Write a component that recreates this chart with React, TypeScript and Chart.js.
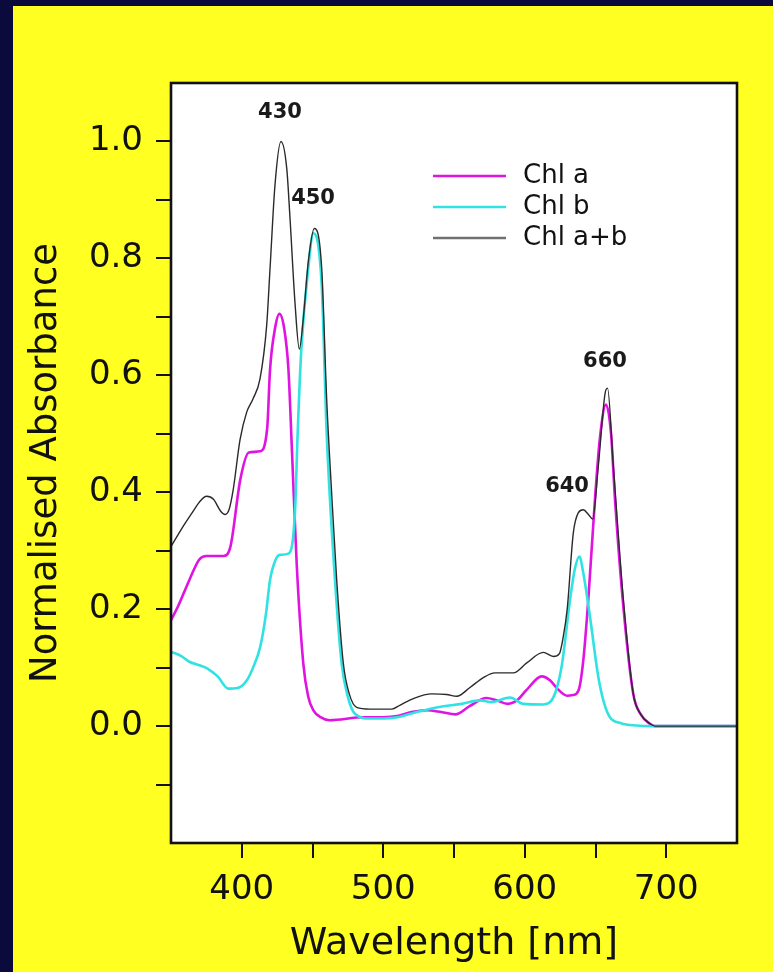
import React, { useEffect, useRef } from "react";
import { Chart, registerables } from "chart.js";

Chart.register(...registerables);

// ---- data ----
const chlAWavelengths = [350, 355, 363, 370, 375, 387, 392, 399, 405, 413, 418, 420, 423.5, 426.6, 430, 433, 435.5, 438.8, 443.5, 447, 450.6, 456, 462, 486, 500, 510, 520, 531, 541, 551, 561, 573, 580, 588, 595, 601, 612, 618, 623, 630, 634, 638, 641.4, 644.9, 649.6, 653, 657.4, 661, 663.8, 669.7, 676.7, 682, 688.5, 692, 750];
const chlAValues = [0.181, 0.205, 0.25, 0.285, 0.291, 0.291, 0.307, 0.422, 0.468, 0.47, 0.51, 0.61, 0.68, 0.705, 0.68, 0.61, 0.47, 0.279, 0.107, 0.05, 0.027, 0.015, 0.01, 0.015, 0.015, 0.017, 0.024, 0.027, 0.024, 0.02, 0.034, 0.048, 0.044, 0.038, 0.045, 0.061, 0.085, 0.078, 0.064, 0.052, 0.053, 0.061, 0.113, 0.216, 0.387, 0.49, 0.55, 0.5, 0.387, 0.204, 0.055, 0.02, 0.004, 0, 0];

const chlBWavelengths = [350, 357, 363, 370, 376, 383, 390.5, 397, 403.5, 408, 413, 417, 420, 424, 427, 433, 437.6, 439.5, 442, 447, 450.6, 456.5, 460, 465.9, 470.6, 475, 480, 490.6, 500, 510, 523.6, 542.5, 555.4, 568.4, 576.6, 589.6, 599, 613, 619, 626, 632, 635.5, 638.6, 641.5, 646.1, 652, 656, 660.2, 668, 679, 690, 750];
const chlBValues = [0.127, 0.12, 0.11, 0.104, 0.098, 0.085, 0.064, 0.065, 0.078, 0.1, 0.135, 0.19, 0.25, 0.285, 0.293, 0.295, 0.365, 0.5, 0.64, 0.783, 0.843, 0.754, 0.502, 0.25, 0.107, 0.05, 0.021, 0.013, 0.013, 0.015, 0.024, 0.034, 0.038, 0.044, 0.041, 0.049, 0.038, 0.037, 0.044, 0.101, 0.216, 0.27, 0.29, 0.26, 0.187, 0.084, 0.04, 0.015, 0.005, 0.001, 0, 0];

const chlABWavelengths = [350, 358.7, 365, 370, 375.2, 380, 385, 388.2, 391, 394, 398.8, 403.5, 408, 412.9, 417.6, 420, 423.5, 427.7, 431.8, 434.1, 437.6, 440.7, 443.5, 447, 451.3, 456.5, 460, 463.5, 467.1, 471.8, 476, 481.2, 490.6, 506, 512, 521.2, 534.2, 544.8, 551.9, 561.3, 570.7, 579, 591.9, 601.4, 613.1, 620.2, 624.5, 627, 630, 634.3, 637.9, 641.4, 645, 648, 652, 656.7, 658.5, 662.6, 669.7, 676.7, 682, 688.5, 692, 750];
const chlABValues = [0.307, 0.342, 0.365, 0.383, 0.393, 0.388, 0.368, 0.362, 0.37, 0.405, 0.49, 0.537, 0.56, 0.594, 0.685, 0.783, 0.926, 1.0, 0.954, 0.869, 0.725, 0.645, 0.697, 0.794, 0.851, 0.783, 0.56, 0.4, 0.25, 0.107, 0.055, 0.032, 0.029, 0.029, 0.036, 0.047, 0.055, 0.054, 0.051, 0.066, 0.083, 0.091, 0.091, 0.108, 0.126, 0.119, 0.124, 0.15, 0.2, 0.33, 0.365, 0.37, 0.362, 0.354, 0.445, 0.568, 0.578, 0.445, 0.216, 0.055, 0.02, 0.004, 0, 0];

const seriesLabels = ["Chl a", "Chl b", "Chl a+b"];

const peakLabels = ["430", "450", "640", "660"];
const peakLabelWavelengths = [427, 450.4, 629.9, 656.7];
const peakLabelValues = [1.049, 0.903, 0.41, 0.623];

const xTickLabels = [400, 500, 600, 700];
const yTickLabels = [0, 0.2, 0.4, 0.6, 0.8, 1.0];

const X_MIN = 350;
const X_MAX = 750;
const Y_MIN = -0.2;
const Y_MAX = 1.1;

const FONT = "'DejaVu Sans', sans-serif";

function toPoints(xs: number[], ys: number[]) {
  return xs.map((x, i) => ({ x, y: ys[i] }));
}

const framePlugin = {
  id: "frame",
  beforeDraw(chart: any) {
    const { ctx, chartArea } = chart;
    ctx.save();
    ctx.fillStyle = "#ffffff";
    ctx.fillRect(chartArea.left, chartArea.top, chartArea.right - chartArea.left, chartArea.bottom - chartArea.top);
    ctx.restore();
  },
  afterDatasetsDraw(chart: any) {
    const { ctx, chartArea, scales } = chart;
    ctx.save();
    // frame
    ctx.strokeStyle = "#111111";
    ctx.lineWidth = 2.6;
    ctx.strokeRect(chartArea.left, chartArea.top, chartArea.right - chartArea.left, chartArea.bottom - chartArea.top);

    // legend
    const lx = chartArea.left + 262;
    const ly = chartArea.top + 93;
    const gap = 31;
    ctx.font = `26px ${FONT}`;
    ctx.textBaseline = "middle";
    ctx.textAlign = "left";
    chart.data.datasets.forEach((ds: any, i: number) => {
      const y = ly + i * gap;
      const thin = ds.borderWidth < 2;
      ctx.strokeStyle = thin ? "#707070" : ds.borderColor;
      ctx.lineWidth = thin ? 2.4 : ds.borderWidth;
      ctx.beginPath();
      ctx.moveTo(lx, y);
      ctx.lineTo(lx + 73, y);
      ctx.stroke();
      ctx.fillStyle = "#111111";
      ctx.fillText(ds.label, lx + 90, y);
    });

    // peak annotations
    ctx.font = `bold 21px ${FONT}`;
    ctx.textAlign = "center";
    ctx.fillStyle = "#1a1a1a";
    peakLabels.forEach((t, i) => {
      const px = scales.x.getPixelForValue(peakLabelWavelengths[i]);
      const py = scales.y.getPixelForValue(peakLabelValues[i]);
      ctx.fillText(t, px, py);
    });
    ctx.restore();
  },
};

export default function App() {
  const ref = useRef<HTMLCanvasElement>(null);

  useEffect(() => {
    document.body.style.margin = "0";
    const canvas = ref.current;
    if (!canvas) return;
    const chart = new Chart(canvas, {
      type: "line",
      data: {
        datasets: [
          {
            label: seriesLabels[0],
            data: toPoints(chlAWavelengths, chlAValues),
            borderColor: "#e014e0",
            borderWidth: 2.6,
            pointRadius: 0,
            cubicInterpolationMode: "monotone",
            order: 3,
          },
          {
            label: seriesLabels[1],
            data: toPoints(chlBWavelengths, chlBValues),
            borderColor: "#30e2e2",
            borderWidth: 2.6,
            pointRadius: 0,
            cubicInterpolationMode: "monotone",
            order: 2,
          },
          {
            label: seriesLabels[2],
            data: toPoints(chlABWavelengths, chlABValues),
            borderColor: "#2a2a2a",
            borderWidth: 1.4,
            pointRadius: 0,
            cubicInterpolationMode: "monotone",
            order: 1,
          },
        ],
      },
      options: {
        responsive: false,
        animation: false,
        layout: { padding: { left: 0, top: 77, right: 36, bottom: 0 } },
        plugins: {
          legend: { display: false },
          tooltip: { enabled: false },
        },
        scales: {
          x: {
            type: "linear",
            min: X_MIN,
            max: X_MAX,
            afterFit: (s: any) => {
              s.height = 129;
            },
            border: { display: false },
            grid: {
              drawOnChartArea: false,
              drawTicks: true,
              tickLength: 15,
              lineWidth: 2,
              color: (c: any) =>
                c.tick && (c.tick.value === X_MIN || c.tick.value === X_MAX) ? "rgba(0,0,0,0)" : "#111111",
            },
            ticks: {
              stepSize: 50,
              autoSkip: false,
              maxRotation: 0,
              padding: 12,
              color: "#111111",
              font: { family: FONT, size: 34 },
              callback: (v: any) => (xTickLabels.includes(Number(v)) ? String(v) : ""),
            },
            title: {
              display: true,
              text: "Wavelength [nm]",
              color: "#111111",
              font: { family: FONT, size: 38 },
              padding: { top: 0, bottom: 5 },
            },
          },
          y: {
            type: "linear",
            min: Y_MIN,
            max: Y_MAX,
            afterFit: (s: any) => {
              s.width = 158;
            },
            border: { display: false },
            grid: {
              drawOnChartArea: false,
              drawTicks: true,
              tickLength: 15,
              lineWidth: 2,
              color: (c: any) => {
                if (!c.tick) return "#111111";
                const r = Math.round(c.tick.value * 10);
                return r === -2 || r === 11 ? "rgba(0,0,0,0)" : "#111111";
              },
            },
            ticks: {
              stepSize: 0.1,
              autoSkip: false,
              padding: 13,
              color: "#111111",
              font: { family: FONT, size: 34 },
              callback: (v: any) => {
                const r = Math.round(Number(v) * 10) / 10;
                return yTickLabels.some((t) => Math.abs(t - r) < 1e-6) ? r.toFixed(1) : "";
              },
            },
            title: {
              display: true,
              text: "Normalised Absorbance",
              color: "#111111",
              font: { family: FONT, size: 37 },
              padding: { top: 11, bottom: 0 },
            },
          },
        },
      },
      plugins: [framePlugin],
    } as any);
    return () => chart.destroy();
  }, []);

  return (
    <div style={{ width: 773, height: 972, background: "#0a0a3c", position: "relative", overflow: "hidden" }}>
      <div style={{ position: "absolute", left: 13, top: 6, width: 760, height: 966, background: "#ffff22" }}>
        <canvas ref={ref} width={760} height={966} style={{ display: "block", width: 760, height: 966 }} />
      </div>
    </div>
  );
}
